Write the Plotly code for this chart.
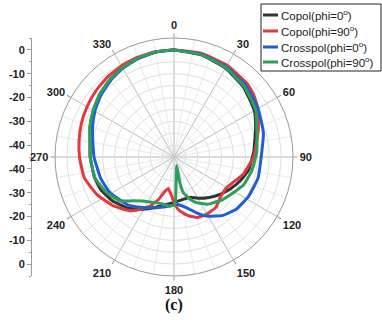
import plotly.graph_objects as go

# ---- data (theta in degrees, gain in dB) ----
series_names = ["Copol(phi=0<sup>o</sup>)", "Copol(phi=90<sup>o</sup>)",
                "Crosspol(phi=0<sup>o</sup>)", "Crosspol(phi=90<sup>o</sup>)"]
series_colors = ["#333333", "#e3393c", "#1f5fd6", "#2e9e5b"]

copol0_theta = [0, 15, 30, 45, 60, 70, 86, 100, 110, 120, 129, 139, 150, 158, 168, 181, 191, 202, 213,
                223, 234, 246, 256, 270, 280, 290, 300, 310, 320, 330, 340, 350, 360]
copol0_db = [0, -0.6, -1.8, -3.6, -6.0, -8.5, -11.4, -13.2, -15.5, -17.9, -20.1, -22.5, -25.0, -26.8,
             -26.8, -25.8, -24.5, -22.0, -18.8, -15.9, -13.3, -11.3, -10.5, -9.8, -9.2, -7.5, -5.9,
             -4.3, -2.9, -1.7, -0.8, -0.2, 0]

copol90_theta = [0, 15, 30, 45, 52, 60, 71, 80, 90, 104, 113, 120, 131, 140, 150, 159, 166, 174, 179,
                 183.5, 190.3, 195, 200, 206, 213, 219, 231, 244, 257, 270, 280, 290, 300, 310, 320,
                 330, 340, 350, 360]
copol90_db = [0, 0, -0.5, -1.5, -2.5, -4.3, -7.5, -9.8, -11.6, -15.0, -17.9, -19.4, -19.2, -17.5,
              -17.3, -17.8, -19.5, -22.2, -25.1, -28.6, -31.6, -30.0, -26.0, -22.1, -18.8, -15.9,
              -12.3, -9.0, -6.3, -5.3, -4.5, -3.6, -2.8, -2.0, -1.3, -0.8, -0.4, -0.1, 0]

cross0_theta = [0, 15, 30, 45, 60, 75, 88, 104, 118, 130, 140, 151, 158, 166, 177, 185, 199, 212, 224,
                241, 254, 270, 280, 290, 300, 310, 320, 330, 340, 350, 360]
cross0_db = [0, -0.4, -1.2, -2.5, -4.2, -6.1, -8.2, -8.6, -9.6, -10.9, -13.0, -16.6, -19.7, -23.0,
             -25.1, -24.3, -22.5, -20.0, -17.0, -14.2, -12.9, -11.4, -10.4, -8.6, -6.6, -4.8, -3.3,
             -2.0, -1.0, -0.3, 0]

cross90_theta = [0, 15, 30, 45, 60, 71, 87, 100, 112, 121, 133, 145, 153.6, 159, 165.4, 167, 162, 176,
                 178.8, 184.7, 192.7, 200.7, 208, 215, 223, 231, 242, 255, 270, 280, 290, 300, 310,
                 320, 330, 340, 350, 360]
cross90_db = [0, -0.5, -1.6, -3.2, -5.4, -8.2, -10.2, -11.8, -13.5, -15.9, -18.2, -20.8, -23.6, -26.0,
              -29.5, -33.9, -41.3, -32.8, -25.1, -24.3, -24.6, -24.5, -23.6, -22.4, -19.8, -15.7,
              -13.0, -10.7, -9.8, -9.1, -7.4, -5.8, -4.1, -2.8, -1.7, -0.8, -0.2, 0]

angle_ticks = list(range(0, 360, 30))
angle_labels = [str(a) for a in angle_ticks]
fine_spokes = list(range(0, 360, 10))
radial_grid = [-40, -35, -30, -25, -20, -15, -10, -5, 0]
left_tick_pos = [45, 35, 25, 15, 5, -5, -15, -25, -35, -45]
left_tick_text = ["0", "-10", "-20", "-30", "-40", "-40", "-30", "-20", "-10", "0"]
left_minor_pos = [50, 40, 30, 20, 10, 0, -10, -20, -30, -40, -50]

W, H = 382, 322
bold = dict(family="Liberation Sans, Arial", size=11, color="#222", weight="bold")

fig = go.Figure()
all_series = [(copol0_theta, copol0_db), (copol90_theta, copol90_db),
              (cross0_theta, cross0_db), (cross90_theta, cross90_db)]
for (th, r), name, col in zip(all_series, series_names, series_colors):
    fig.add_trace(go.Scatterpolar(theta=th, r=r, mode="lines", name=name, subplot="polar2",
                                  line=dict(color=col, width=3, shape="spline", smoothing=0.4),
                                  showlegend=False))

# invisible helper traces so the background polar grid and left axis are drawn
fig.add_trace(go.Scatterpolar(theta=[0], r=[-45], mode="markers", marker=dict(opacity=0),
                              subplot="polar", showlegend=False, hoverinfo="skip"))
fig.add_trace(go.Scatter(x=[0.5], y=[0], mode="markers", marker=dict(opacity=0),
                         showlegend=False, hoverinfo="skip"))

py0, py1 = 1 - 276 / H, 1 - 38 / H
pdom = dict(x=[55 / W, 293 / W], y=[py0, py1])
fig.update_layout(
    width=W, height=H, margin=dict(l=0, r=0, t=0, b=0),
    paper_bgcolor="white", plot_bgcolor="rgba(0,0,0,0)",
    polar=dict(
        domain=pdom, bgcolor="white",
        angularaxis=dict(rotation=90, direction="clockwise", tickmode="array",
                         tickvals=fine_spokes, showticklabels=False, ticks="",
                         showgrid=True, gridcolor="#ebebeb", gridwidth=1, showline=False),
        radialaxis=dict(range=[-45, 5], visible=False),
    ),
    polar2=dict(
        domain=pdom, bgcolor="rgba(0,0,0,0)",
        angularaxis=dict(rotation=90, direction="clockwise", tickmode="array",
                         tickvals=angle_ticks, ticktext=angle_labels,
                         showgrid=True, gridcolor="#c2c2c2", gridwidth=1,
                         showline=True, linecolor="#9a9a9a", linewidth=1,
                         ticks="outside", ticklen=4, tickcolor="#9a9a9a",
                         tickfont=bold),
        radialaxis=dict(range=[-45, 5], tickmode="array", tickvals=radial_grid,
                        showticklabels=False, ticks="", showline=False,
                        gridcolor="#dedede", gridwidth=1),
    ),
    xaxis=dict(domain=[32 / W, 40 / W], range=[0, 1], visible=False),
    yaxis=dict(domain=[py0, py1], range=[-50, 50], tickmode="array",
               tickvals=left_tick_pos, ticktext=left_tick_text,
               showline=True, linecolor="#9a9a9a", linewidth=1,
               ticks="outside", ticklen=4, tickcolor="#9a9a9a",
               showgrid=False, zeroline=False, tickfont=bold,
               minor=dict(ticks="outside", ticklen=2, tickcolor="#9a9a9a",
                          tickvals=left_minor_pos, showgrid=False)),
)

# legend box (drawn manually to match the compact reference legend)
leg_x0, leg_x1, leg_y0, leg_y1 = 261, 381, 4, 71
fig.add_shape(type="rect", xref="paper", yref="paper",
              x0=leg_x0 / W, x1=leg_x1 / W, y0=1 - leg_y1 / H, y1=1 - leg_y0 / H,
              line=dict(color="#222", width=1), fillcolor="white")
row_y = [15, 31, 47, 62]
for name, col, ry in zip(series_names, series_colors, row_y):
    fig.add_shape(type="line", xref="paper", yref="paper",
                  x0=263 / W, x1=278 / W, y0=1 - ry / H, y1=1 - ry / H,
                  line=dict(color=col, width=3))
    fig.add_annotation(x=279 / W, y=1 - ry / H, xref="paper", yref="paper",
                       text=name, showarrow=False, xanchor="left", yanchor="middle",
                       font=dict(family="Liberation Sans, Arial", size=11.5, color="#222"))

fig.add_annotation(x=174 / W, y=1 - 305 / H, xref="paper", yref="paper", text="<b>(c)</b>",
                   showarrow=False, xanchor="center", yanchor="middle",
                   font=dict(family="Liberation Serif, Times New Roman", size=16, color="#111"))

fig.write_html("out.html", config={"displayModeBar": False},
               post_script="document.body.style.margin='0';")
